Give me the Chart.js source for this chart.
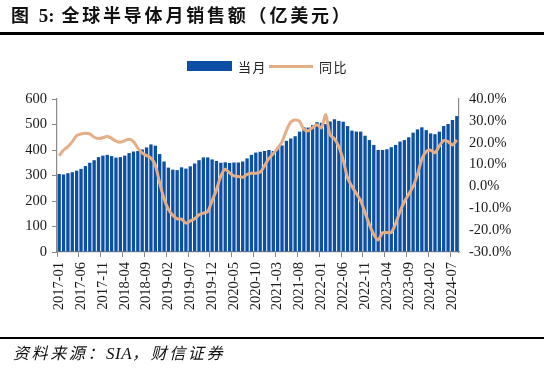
<!DOCTYPE html>
<html><head><meta charset="utf-8">
<script src="https://cdn.jsdelivr.net/npm/chart.js@4/dist/chart.umd.min.js"></script>
<style>
html,body{margin:0;padding:0;background:#fff;}
body{width:544px;height:378px;overflow:hidden;position:relative;font-family:"Noto Sans CJK SC",sans-serif;color:#111;}
canvas{position:absolute;left:0;top:0;}
#title{position:absolute;left:11px;top:1px;font-size:18px;font-weight:bold;letter-spacing:2.8px;white-space:nowrap;}
#title .num{font-family:"Liberation Serif",serif;font-weight:bold;font-size:19px;letter-spacing:0;}
.rule{position:absolute;left:0;width:544px;background:#000;}
#src{position:absolute;left:13px;top:340px;font-size:16px;font-style:italic;white-space:nowrap;letter-spacing:2.6px;}
#src .lat{font-family:"Liberation Serif",serif;font-size:17px;letter-spacing:0.5px;}
.lg{position:absolute;font-size:13px;letter-spacing:1.5px;white-space:nowrap;color:#222;}
</style></head>
<body>
<canvas id="c" width="544" height="378"></canvas>
<div id="title">图 <span class="num">5:</span>&nbsp;全球半导体月销售额（亿美元）</div>
<div class="rule" style="top:32px;height:2.5px"></div>
<div class="rule" style="top:336.5px;height:2.5px"></div>
<div id="src">资料来源：<span class="lat">SIA</span>，财信证券</div>
<div style="position:absolute;left:187px;top:61px;width:45px;height:10px;background:#0C50A5"></div>
<div class="lg" style="left:238px;top:57px">当月</div>
<div style="position:absolute;left:269px;top:64.5px;width:44px;height:3px;background:#E6AE86"></div>
<div class="lg" style="left:319px;top:57px">同比</div>
<script>
// categories: monthly, 2017-01 .. 2024-08
const startYear = 2017, monthCount = 92;
const months = [];
for (let k = 0; k < monthCount; k++) {
  const y = startYear + Math.floor(k / 12), m = (k % 12) + 1;
  months.push(y + '-' + (m < 10 ? '0' + m : m));
}
// 当月 global semiconductor sales (100M USD)
const sales = [
  306,304,309,313,319,326,337,350,360,372,378,381,
  376,370,372,378,388,394,396,402,410,422,417,384,
  355,331,323,321,332,327,336,347,360,371,371,363,
  357,350,352,349,351,351,355,367,381,390,393,396,
  400,396,410,418,436,445,454,472,489,488,498,509,
  507,502,512,521,514,511,494,476,472,472,456,439,
  420,400,400,403,411,420,433,439,450,468,481,489,
  478,465,462,472,494,502,518,533
];
// 同比 YoY growth (%)
const yoy = [
  14.0,16.7,18.2,20.5,23.2,24.0,24.3,24.0,22.5,21.9,22.3,23.0,
  22.0,20.7,20.2,20.9,21.6,20.5,17.5,15.2,14.1,13.0,9.8,1.5,
  -5.6,-10.5,-13.2,-14.8,-15.0,-16.8,-15.8,-14.8,-13.0,-12.2,-11.5,-6.5,
  -1.5,4.8,7.9,6.2,4.8,4.5,4.2,5.5,6.0,6.0,6.5,9.5,
  12.8,15.0,17.5,20.5,25.5,29.5,30.4,29.8,26.0,25.5,27.0,28.2,
  26.8,32.8,23.5,21.8,18.2,12.0,4.0,0.0,-3.2,-6.5,-12.0,-17.5,
  -22.0,-24.5,-21.2,-21.1,-21.1,-17.0,-11.5,-7.0,-3.5,0.0,5.5,12.5,
  16.0,16.6,15.4,18.5,21.0,20.5,19.0,21.2
];
const leftTicks = [0,100,200,300,400,500,600];
const rightTicks = [-30,-20,-10,0,10,20,30,40];

const axisColor = '#8a8a8a';
const tickFont = {family:'Liberation Serif', size:14.5};
new Chart(document.getElementById('c'), {
  data: {
    labels: months,
    datasets: [
      {type:'line', label:'同比', data:yoy, yAxisID:'y1', borderColor:'#E6AE86', borderWidth:3,
       pointRadius:0, tension:0.25, order:0},
      {type:'bar', label:'当月', data:sales, yAxisID:'y', backgroundColor:'#0C50A5',
       barPercentage:0.76, categoryPercentage:1, order:1}
    ]
  },
  options: {
    responsive:false, animation:false,
    layout:{padding:{top:99,left:0,right:0,bottom:0}},
    plugins:{legend:{display:false}, tooltip:{enabled:false}},
    scales:{
      x:{
        offset:true,
        grid:{offset:true, drawOnChartArea:false, tickLength:5,
              color:(c)=> (c.index % 5 === 0) ? axisColor : 'rgba(0,0,0,0)'},
        border:{color:axisColor, width:1.2},
        ticks:{autoSkip:false, maxRotation:90, minRotation:90, padding:5, font:tickFont, color:'#1a1a1a',
               callback:(v,i)=> (i % 5 === 0) ? months[i] : ''},
        afterFit:(s)=>{ s.height = 126; }
      },
      y:{
        position:'left', min:0, max:600,
        afterBuildTicks:(s)=>{ s.ticks = leftTicks.map(v=>({value:v})); },
        grid:{drawOnChartArea:false, tickLength:5, color:axisColor},
        border:{color:axisColor, width:1.2},
        ticks:{padding:5, font:tickFont, color:'#1a1a1a'},
        afterFit:(s)=>{ s.width = 57; }
      },
      y1:{
        position:'right', min:-30, max:40,
        afterBuildTicks:(s)=>{ s.ticks = rightTicks.map(v=>({value:v})); },
        grid:{drawOnChartArea:false, drawTicks:false},
        border:{color:axisColor, width:1.2},
        ticks:{padding:10, font:tickFont, color:'#1a1a1a', callback:(v)=> Number(v).toFixed(1) + '%'},
        afterFit:(s)=>{ s.width = 85; }
      }
    }
  }
});
</script>
</body></html>
